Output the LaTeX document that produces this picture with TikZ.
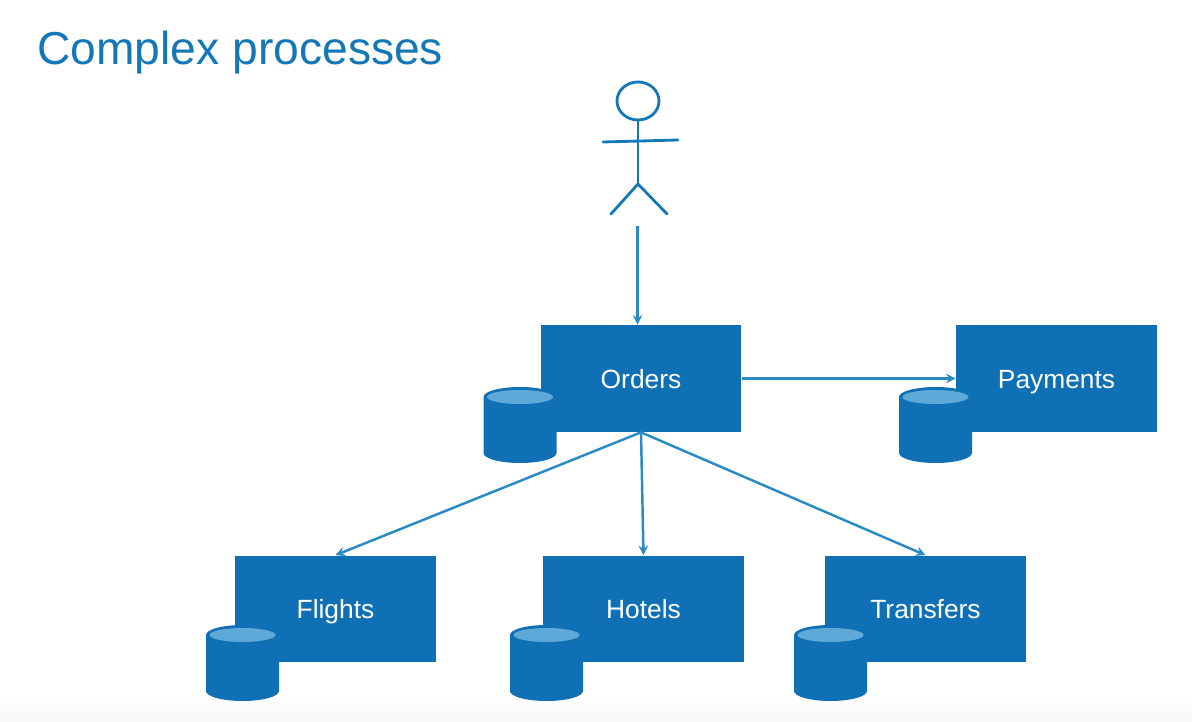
\documentclass[tikz,border=0pt]{standalone}
\usepackage{fontspec}
\setmainfont{Liberation Sans}
\usetikzlibrary{positioning}
\usetikzlibrary{arrows}
\usetikzlibrary{shapes.geometric}
\definecolor{boxblue}{HTML}{1070B6}
\definecolor{linkblue}{HTML}{2A8AC4}
\definecolor{lidblue}{HTML}{5FA9D8}
\definecolor{titleblue}{HTML}{1477B8}
\tikzset{
 service/.style={fill=boxblue,text=white,minimum width=4.02cm,minimum height=2.14cm,text height=11pt,text depth=0pt,inner sep=0pt,font=\fontsize{15}{18}\selectfont},
 link/.style={-stealth,linkblue,line width=1.4pt},
 figure/.style={titleblue,line width=1.6pt,line cap=round},
 dbase/.pic={
  \fill[boxblue] (-36.5,-28)--(-36.5,28) arc (180:0:36.5 and 10)--(36.5,-28) arc (0:-180:36.5 and 10)--cycle;
  \fill[lidblue] (0,-28) ellipse (33 and 7);
 }
}
\begin{document}
\begin{tikzpicture}[x=.02cm,y=-.02cm]
 \useasboundingbox (0,0) rectangle (1192,722);
 \shade[top color=white,bottom color=black!3] (0,696) rectangle (1192,722);
 \node[titleblue,anchor=base west,inner sep=0pt,font=\fontsize{26.3}{30}\selectfont] (title) at (37,65) {Complex processes};
 % actor
 \node[draw=titleblue,line width=1.6pt,ellipse,minimum width=.84cm,minimum height=.76cm,inner sep=0pt] (head) at (638,101) {};
 \coordinate (hip) at (638,184);
 \coordinate (handl) at (603,142);
 \coordinate (handr) at (678,140);
 \coordinate (footl) at (611,214);
 \coordinate (footr) at (667,214);
 \coordinate (actor) at (637.5,226);
 \draw[figure] (head.south)--(hip);
 \draw[figure] (handl)--(handr);
 \draw[figure] (footl)--(hip)--(footr);
 % services
 \node[service] (orders) at (641,378.5) {Orders};
 \node[service] (payments) at (1056.5,378.5) {Payments};
 \node[service] (flights) at (335.5,609) {Flights};
 \node[service] (hotels) at (643.5,609) {Hotels};
 \node[service] (transfers) at (925.5,609) {Transfers};
 % databases
 \foreach \x/\y in {520/425,935.5/425,242.5/663,546.5/663,830.5/663}
  \pic at (\x,\y) {dbase};
 % links
 \draw[link] (actor)--(actor|-orders.north);
 \draw[link] (orders.east)--(payments.west);
 \draw[link] (orders.south)--(flights.north);
 \draw[link] (orders.south)--(hotels.north);
 \draw[link] (orders.south)--(transfers.north);
\end{tikzpicture}
\end{document}
